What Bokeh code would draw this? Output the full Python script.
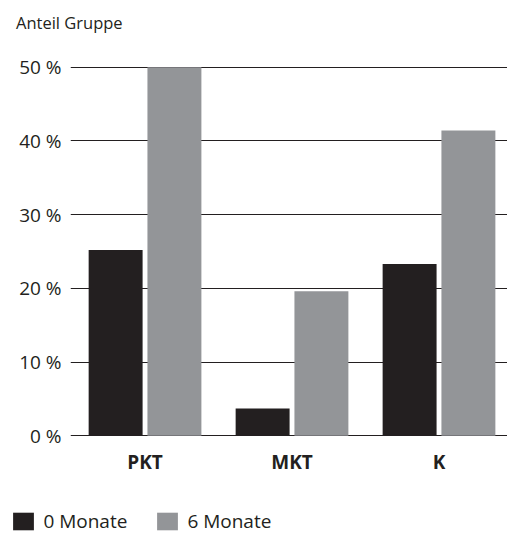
import numpy as np
from bokeh.plotting import figure
from bokeh.layouts import column
from bokeh.models import (Range1d, FixedTicker, PrintfTickFormatter, Legend, LegendItem,
                          ColumnDataSource, Label)
from bokeh.embed import file_html
from bokeh.resources import INLINE

categories = ["PKT", "MKT", "K"]
months_0 = [25.2, 3.7, 23.3]
months_6 = [50.0, 19.6, 41.4]
series_labels = ["0 Monate", "6 Monate"]
y_ticks = [0, 10, 20, 30, 40, 50]
title_text = "Anteil Gruppe"

DARK = "#231f20"
GRAY = "#939598"
FONT = "Open Sans"

idx = np.arange(len(categories))
src0 = ColumnDataSource(dict(x=idx - 0.2, top=months_0))
src6 = ColumnDataSource(dict(x=idx + 0.2, top=months_6))


def strip(height):
    f = figure(width=507, height=height, output_backend="svg", toolbar_location=None,
               x_axis_location=None, y_axis_location=None,
               x_range=Range1d(100, 101), y_range=Range1d(100, 101),
               min_border=0, min_border_left=0, min_border_right=0,
               min_border_top=0, min_border_bottom=0)
    f.grid.visible = False
    f.outline_line_color = None
    try:
        f.frame_align = False
    except AttributeError:
        pass
    return f


# ---- title strip ----
tf = strip(40)
tf.add_layout(Label(x=15.5, y=18.5, x_units="screen", y_units="screen", text=title_text,
                    text_font=FONT, text_font_size="16.5px", text_color=DARK,
                    text_baseline="alphabetic", text_align="left"))

# ---- main chart ----
p = figure(width=507, height=460, output_backend="svg", toolbar_location=None,
           x_range=Range1d(-0.507, 2.466), y_range=Range1d(-0.1, 50.1),
           min_border_left=70, min_border_right=0, min_border_top=26, min_border_bottom=64)
p.outline_line_color = None
p.background_fill_color = "white"
p.border_fill_color = "white"

r0 = p.vbar(x="x", top="top", bottom=0, width=0.367, source=src0, fill_color=DARK, line_color=None)
r6 = p.vbar(x="x", top="top", bottom=0, width=0.367, source=src6, fill_color=GRAY, line_color=None)

p.xgrid.grid_line_color = None
p.ygrid.grid_line_color = DARK
p.ygrid.grid_line_width = 1
p.ygrid.level = "underlay"

p.yaxis.ticker = FixedTicker(ticks=y_ticks)
p.yaxis.formatter = PrintfTickFormatter(format="%d %%")
p.yaxis.axis_line_color = None
p.yaxis.major_tick_line_color = None
p.yaxis.minor_tick_line_color = None
p.yaxis.major_tick_out = 0
p.yaxis.major_tick_in = 0
p.yaxis.major_label_standoff = 9
p.yaxis.major_label_text_font = FONT
p.yaxis.major_label_text_font_size = "19px"
p.yaxis.major_label_text_color = DARK

p.xaxis.ticker = FixedTicker(ticks=list(idx))
p.xaxis.major_label_overrides = {int(i): c for i, c in zip(idx, categories)}
p.xaxis.axis_line_color = None
p.xaxis.major_tick_line_color = None
p.xaxis.minor_tick_line_color = None
p.xaxis.major_tick_out = 0
p.xaxis.major_tick_in = 0
p.xaxis.major_label_standoff = 12
p.xaxis.major_label_text_font = FONT
p.xaxis.major_label_text_font_size = "19px"
p.xaxis.major_label_text_font_style = "bold"
p.xaxis.major_label_text_color = DARK

# ---- legend strip (its renderers lie outside its ranges, so only the legend shows) ----
lg = strip(36)
l0 = lg.vbar(x="x", top="top", bottom=0, width=0.367, source=src0, fill_color=DARK, line_color=None)
l6 = lg.vbar(x="x", top="top", bottom=0, width=0.367, source=src6, fill_color=GRAY, line_color=None)

legend = Legend(items=[LegendItem(label=series_labels[0], renderers=[l0]),
                       LegendItem(label=series_labels[1], renderers=[l6])],
                orientation="horizontal", location=(10.4, 2),
                glyph_width=26, glyph_height=22, label_standoff=7, spacing=27,
                padding=0, margin=0, border_line_color=None, background_fill_alpha=0,
                label_text_font=FONT, label_text_font_size="19px", label_text_color=DARK)
lg.add_layout(legend, "center")

layout = column(tf, p, lg, spacing=0)
html = file_html(layout, INLINE)
open("out.html", "w").write(html)
